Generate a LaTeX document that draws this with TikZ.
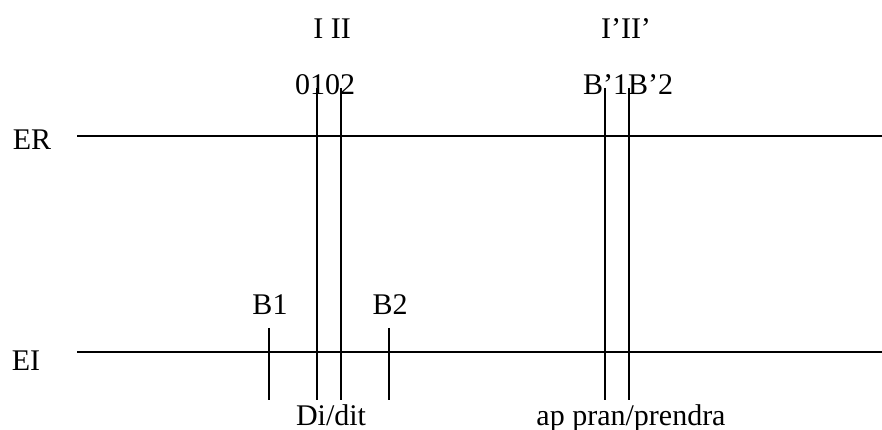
\documentclass[tikz,border=0pt]{standalone}
\usepackage{fontspec}
\setmainfont{Liberation Serif}
\begin{document}
\begin{tikzpicture}[x=1pt,y=1pt,
  lbl/.style={anchor=base,inner sep=0pt,font=\fontsize{30}{36}\selectfont},
  ln/.style={line width=1.8pt,black}]
\useasboundingbox (0,0) rectangle (882,430);
% labels (y = 430 - baseline)
\node[lbl] (t1) at (332,391) {I II};
\node[lbl] (t2) at (325,335) {0102};
\node[lbl] (t3) at (626,391) {I’II’};
\node[lbl] (t4) at (628,335) {B’1B’2};
\node[lbl] (er) at (32,280) {ER};
\node[lbl] (ei) at (26,59) {EI};
\node[lbl] (b1) at (270,115) {B1};
\node[lbl] (b2) at (390,115) {B2};
\node[lbl] (d) at (331,4) {Di/dit};
\node[lbl] (ap) at (631,4) {ap pran/prendra};
% horizontal axes
\coordinate (erL) at (77,294);
\coordinate (erR) at (882,294);
\coordinate (eiL) at (77,78);
\coordinate (eiR) at (882,78);
\draw[ln] (erL) -- (erR);
\draw[ln] (eiL) -- (eiR);
% long vertical lines
\coordinate (v1t) at (317,342); \coordinate (v1b) at (317,30);
\coordinate (v2t) at (341,342); \coordinate (v2b) at (341,30);
\coordinate (v3t) at (605,342); \coordinate (v3b) at (605,30);
\coordinate (v4t) at (629,342); \coordinate (v4b) at (629,30);
\draw[ln] (v1t) -- (v1b);
\draw[ln] (v2t) -- (v2b);
\draw[ln] (v3t) -- (v3b);
\draw[ln] (v4t) -- (v4b);
% ticks
\coordinate (k1t) at (269,102); \coordinate (k1b) at (269,30);
\coordinate (k2t) at (389,102); \coordinate (k2b) at (389,30);
\draw[ln] (k1t) -- (k1b);
\draw[ln] (k2t) -- (k2b);
\end{tikzpicture}
\end{document}
